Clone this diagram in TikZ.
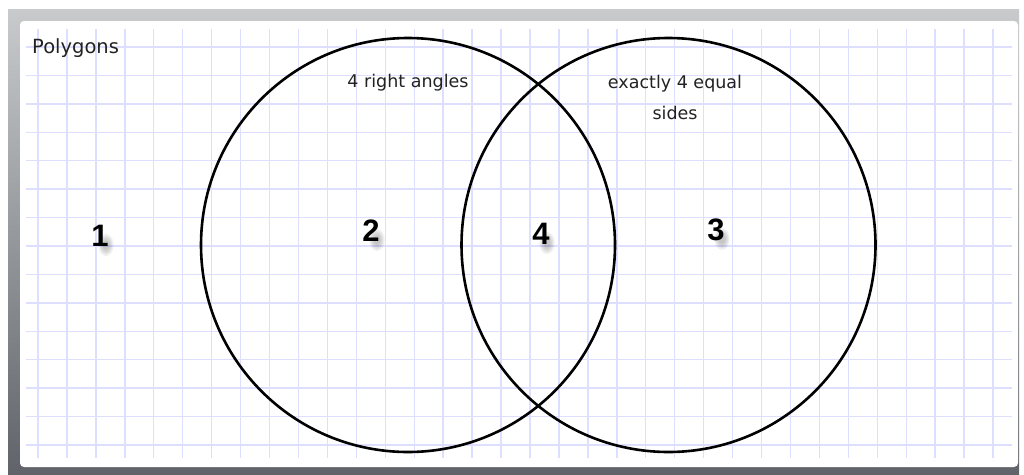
\documentclass[tikz,border=0pt]{standalone}
\usepackage{fontspec}
\setmainfont{DejaVu Sans}
\newfontfamily\numfont{Liberation Sans}
\usetikzlibrary{positioning}

\definecolor{gridc}{RGB}{222,222,255}
\definecolor{frametop}{RGB}{200,202,204}
\definecolor{framebot}{RGB}{96,100,106}
\definecolor{labtext}{RGB}{34,34,34}

\begin{document}
\begin{tikzpicture}[
    x=1pt, y=-1pt,
    setcircle/.style={
        circle, draw=black, line width=2.6pt, minimum size=414pt, inner sep=0pt
    },
    setlabel/.style={
        font=\fontsize{17.5}{31}\selectfont, text=labtext, align=center, inner sep=0pt
    },
    regionnum/.style={
        font=\numfont\bfseries\fontsize{31}{31}\selectfont, text=black, inner sep=0pt
    },
]
\useasboundingbox (0,0) rectangle (1024,474);

% ============================================================
% Frame and paper
% ============================================================
\shade[top color=frametop, bottom color=framebot] (8,9) rectangle (1019,474);
\fill[white, rounded corners=4pt] (20,21) rectangle (1018,467);

% grid
\foreach \k in {0,...,33} {
    \draw[gridc, line width=1.4pt] ({38+28.94*\k},29) -- ({38+28.94*\k},458);
}
\foreach \k in {0,...,14} {
    \draw[gridc, line width=1.4pt] (26,{47+28.43*\k}) -- (1012,{47+28.43*\k});
}

% ============================================================
% Sets
% ============================================================
\node[setcircle] (setA) at (408,245) {};
\node[setcircle] (setB) at (668.5,245) {};

\node[setlabel, anchor=west, font=\fontsize{19.5}{24}\selectfont] (universe) at (32,48) {Polygons};
\node[setlabel] (labA) at (408,83) {4 right angles};
\node[setlabel] (labB) at (675,97) {exactly 4 equal\\sides};

% region numbers, soft shadow below right
\foreach \name/\px/\py/\num in {rone/100/236/1, rtwo/371/231/2, rfour/541/234/4, rthree/716/230/3} {
    \foreach \r in {11,9,7,5} {
        \fill[black, opacity=0.06] (\px+6,\py+9) ellipse ({\r*0.7} and \r);
    }
    \node[regionnum] (\name) at (\px,\py) {\num};
}

\end{tikzpicture}
\end{document}
